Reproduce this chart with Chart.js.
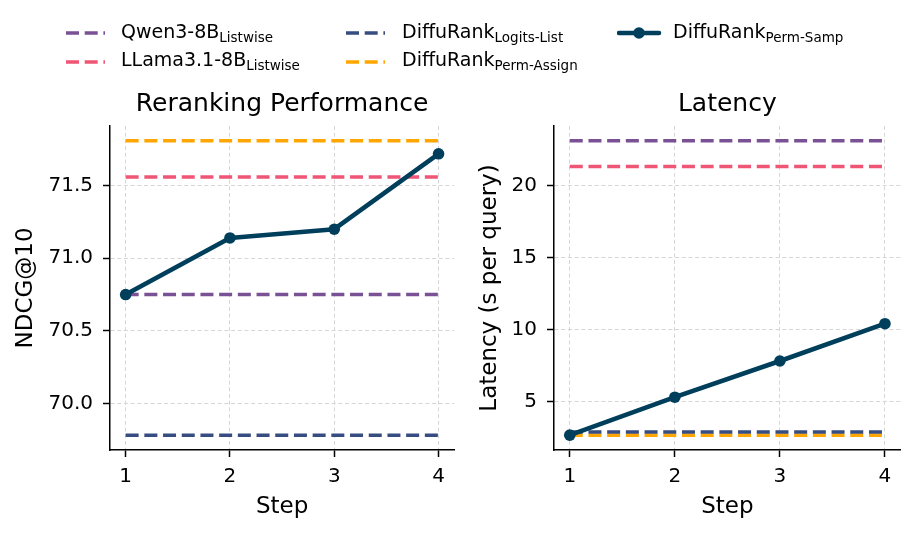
<!DOCTYPE html>
<html>
<head>
<meta charset="utf-8">
<script src="https://cdn.jsdelivr.net/npm/chart.js@4.4.1/dist/chart.umd.min.js"></script>
<style>
  html, body { margin: 0; padding: 0; background: #fff; }
  body { width: 916px; height: 534px; position: relative; overflow: hidden; font-family: "DejaVu Sans", sans-serif; }
  #c1 { position: absolute; left: 0; top: 0; }
  #c2 { position: absolute; left: 460px; top: 0; }
  .lg { position: absolute; font-size: 19px; line-height: 20px; color: #000; white-space: nowrap; }
  .lg sub { font-size: 13.5px; vertical-align: -4px; line-height: 0; }
  .sw { position: absolute; }
</style>
</head>
<body>
<canvas id="c1" width="460" height="534"></canvas>
<canvas id="c2" width="456" height="534"></canvas>
<div id="legend"></div>
<script>
// ---- data ----
const steps = [1, 2, 3, 4];
const seriesNames = ["Qwen3-8B", "LLama3.1-8B", "DiffuRank", "DiffuRank", "DiffuRank"];
const seriesSubs = ["Listwise", "Listwise", "Logits-List", "Perm-Assign", "Perm-Samp"];
const seriesColors = ["#7a5195", "#ef5675", "#374c80", "#ffa600", "#003f5c"];

const ndcgQwen = 70.75;
const ndcgLlama = 71.56;
const ndcgLogitsList = 69.78;
const ndcgPermAssign = 71.81;
const ndcgPermSamp = [70.75, 71.14, 71.20, 71.72];

const latQwen = 23.12;
const latLlama = 21.34;
const latLogitsList = 2.92;
const latPermAssign = 2.69;
const latPermSamp = [2.70, 5.33, 7.84, 10.43];

const ndcgTicks = [70.0, 70.5, 71.0, 71.5];
const latTicks = [5, 10, 15, 20];

// ---- helpers ----
const FONT = "DejaVu Sans";
const DASH = [13, 5.7];

function flat(v) { return [{x: steps[0], y: v}, {x: steps[steps.length - 1], y: v}]; }
function pts(arr) { return steps.map((s, i) => ({x: s, y: arr[i]})); }
function limits(vals) {
  const lo = Math.min(...vals), hi = Math.max(...vals);
  const m = (hi - lo) * 0.05;
  return [lo - m, hi + m];
}

function makeChart(id, title, yTitle, baselines, main, ticks, fmt, cfg) {
  const allVals = baselines.concat(main);
  const [ymin, ymax] = limits(allVals);
  const datasets = [{
    data: pts(main),
    borderColor: seriesColors[4],
    backgroundColor: seriesColors[4],
    borderWidth: 4.6,
    pointRadius: 5.8,
    pointBorderWidth: 0,
    pointBackgroundColor: seriesColors[4],
    borderCapStyle: 'round',
    borderJoinStyle: 'round',
    tension: 0,
    order: 0
  }];
  baselines.forEach((v, i) => {
    datasets.push({
      data: flat(v),
      borderColor: seriesColors[i],
      borderWidth: 3.5,
      borderDash: DASH,
      pointRadius: 0,
      borderCapStyle: 'butt',
      fill: false,
      order: 1 + i
    });
  });
  const gridColor = '#d6d6d6';
  const gridOpts = {
    color: gridColor,
    lineWidth: 1,
    drawTicks: true,
    tickLength: 7,
    tickColor: '#000',
    tickWidth: 1.5,
    tickBorderDash: []
  };
  return new Chart(document.getElementById(id), {
    type: 'line',
    data: { datasets },
    options: {
      responsive: false,
      animation: false,
      events: [],
      layout: { padding: { left: 0, right: cfg.padRight, top: 0, bottom: 0 } },
      plugins: {
        legend: { display: false },
        tooltip: { enabled: false },
        title: {
          display: true,
          text: title,
          fullSize: false,
          color: '#000',
          font: { family: FONT, size: 25, weight: 'normal' },
          padding: { top: 89, bottom: 7 }
        }
      },
      scales: {
        x: {
          type: 'linear',
          min: steps[0] - 0.15,
          max: steps[steps.length - 1] + 0.15,
          afterFit: s => { s.height = 84; },
          afterBuildTicks: s => { s.ticks = steps.map(v => ({value: v})); },
          ticks: {
            color: '#000',
            font: { family: FONT, size: 20 },
            padding: 8,
            maxRotation: 0,
            callback: v => String(v)
          },
          grid: gridOpts,
          border: { display: true, color: '#000', width: 1.5, dash: [4, 2.7] },
          title: {
            display: true,
            text: 'Step',
            color: '#000',
            font: { family: FONT, size: 23 },
            padding: { top: 0, bottom: 13.5 }
          }
        },
        y: {
          type: 'linear',
          min: ymin,
          max: ymax,
          afterFit: s => { s.width = cfg.yWidth; },
          afterBuildTicks: s => { s.ticks = ticks.map(v => ({value: v})); },
          ticks: {
            color: '#000',
            font: { family: FONT, size: 20 },
            padding: 10,
            callback: fmt
          },
          grid: gridOpts,
          border: { display: true, color: '#000', width: 1.5, dash: [4, 2.7] },
          title: {
            display: true,
            text: yTitle,
            color: '#000',
            font: { family: FONT, size: 23 },
            padding: { top: cfg.yTitlePad, bottom: 0 }
          }
        }
      }
    }
  });
}

makeChart('c1', 'Reranking Performance', 'NDCG@10',
  [ndcgQwen, ndcgLlama, ndcgLogitsList, ndcgPermAssign], ndcgPermSamp, ndcgTicks,
  v => Number(v).toFixed(1), { padRight: 4, yWidth: 110, yTitlePad: 12 });

makeChart('c2', 'Latency', 'Latency (s per query)',
  [latQwen, latLlama, latLogitsList, latPermAssign], latPermSamp, latTicks,
  v => String(Math.round(v)), { padRight: 15.3, yWidth: 94, yTitlePad: 16.5 });

// ---- HTML legend (text with subscripts) ----
const legendPos = [
  {lx: 66, ly: 33.3, tx: 121, ty: 21},
  {lx: 66, ly: 62.3, tx: 121, ty: 49.2},
  {lx: 346, ly: 33.3, tx: 402, ty: 21},
  {lx: 346, ly: 62.3, tx: 402, ty: 49.2},
  {lx: 617, ly: 33.3, tx: 673, ty: 21}
];
const lg = document.getElementById('legend');
seriesNames.forEach((name, i) => {
  const p = legendPos[i];
  const svgNS = 'http://www.w3.org/2000/svg';
  const svg = document.createElementNS(svgNS, 'svg');
  svg.setAttribute('class', 'sw');
  svg.setAttribute('width', '46');
  svg.setAttribute('height', '16');
  svg.style.left = p.lx + 'px';
  svg.style.top = (p.ly - 8) + 'px';
  const line = document.createElementNS(svgNS, 'line');
  line.setAttribute('y1', '8'); line.setAttribute('y2', '8');
  line.setAttribute('stroke', seriesColors[i]);
  if (i < 4) {
    line.setAttribute('x1', '0'); line.setAttribute('x2', '39');
    line.setAttribute('stroke-width', '3.5');
    line.setAttribute('stroke-dasharray', DASH.join(' '));
    svg.appendChild(line);
  } else {
    line.setAttribute('x1', '2'); line.setAttribute('x2', '42');
    line.setAttribute('stroke-width', '4.6');
    line.setAttribute('stroke-linecap', 'round');
    svg.appendChild(line);
    const c = document.createElementNS(svgNS, 'circle');
    c.setAttribute('cx', '22'); c.setAttribute('cy', '8'); c.setAttribute('r', '5.8');
    c.setAttribute('fill', seriesColors[i]);
    svg.appendChild(c);
  }
  lg.appendChild(svg);
  const d = document.createElement('div');
  d.className = 'lg';
  d.style.left = p.tx + 'px';
  d.style.top = p.ty + 'px';
  d.innerHTML = name + '<sub>' + seriesSubs[i] + '</sub>';
  lg.appendChild(d);
});
</script>
</body>
</html>
